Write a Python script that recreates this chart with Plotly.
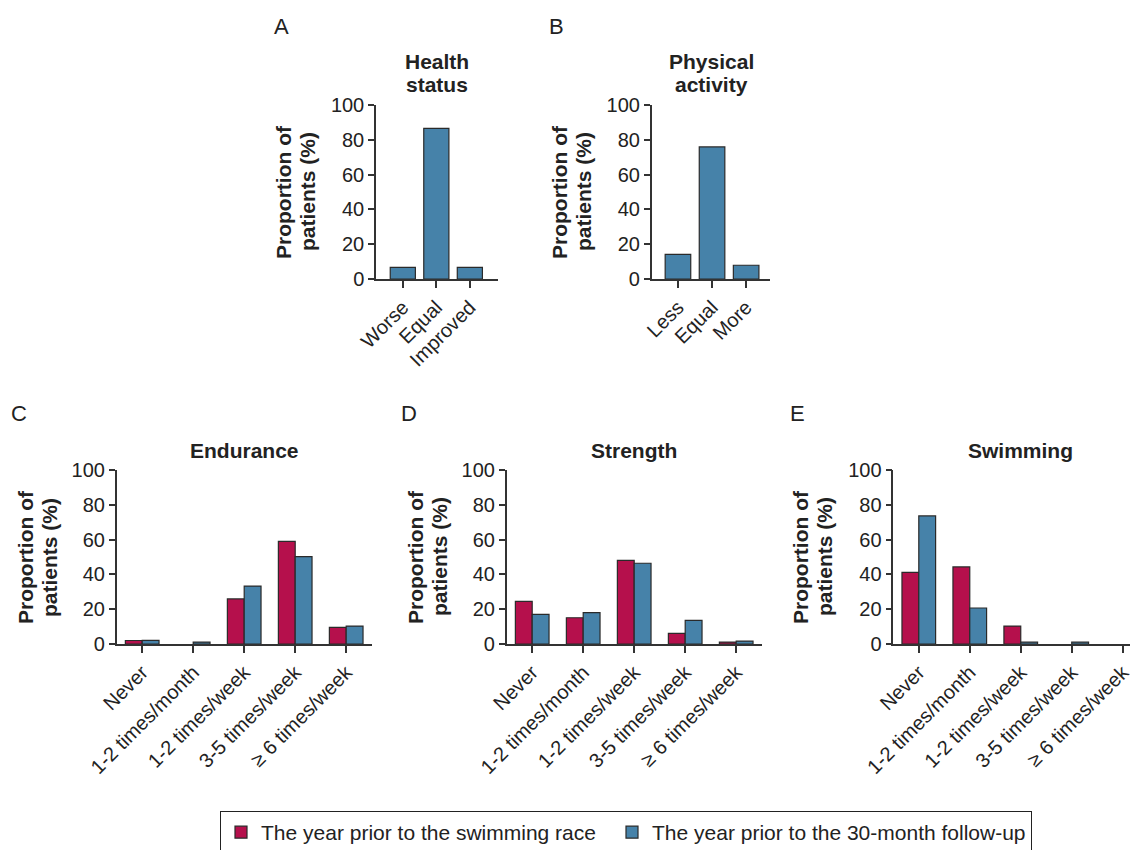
import plotly.graph_objects as go

W, H = 1138, 850
OFF = 8  # page body margin of the browser

# ---------------- data ----------------
health_cats = ["Worse", "Equal", "Improved"]
health_vals = [6.7, 86.6, 6.7]

activity_cats = ["Less", "Equal", "More"]
activity_vals = [14.2, 75.9, 7.9]

freq_cats = ["Never", "1-2 times/month", "1-2 times/week", "3-5 times/week", "≥ 6 times/week"]
endurance_race = [2.0, 0, 25.9, 59.0, 9.6]
endurance_follow = [2.1, 1.1, 33.3, 50.2, 10.3]
strength_race = [24.5, 15.1, 48.1, 6.1, 1.1]
strength_follow = [17.0, 18.0, 46.4, 13.6, 1.7]
swimming_race = [41.2, 44.3, 10.3, 0, 0]
swimming_follow = [73.6, 20.7, 1.1, 1.1, 0]

series_names = ["The year prior to the swimming race", "The year prior to the 30-month follow-up"]

RED = "#B5104C"
BLUE = "#4682A9"
EDGE = "#2a2a2a"
FONT = "Liberation Sans, Arial, sans-serif"


def fx(p):
    return (p - OFF) / W


def fy(p):
    return 1 - (p - OFF) / H


def edge(vals):
    # no outline for empty bars
    return dict(color=EDGE, width=[0 if v == 0 else 1.2 for v in vals])


fig = go.Figure()

# Panel A & B single bars
fig.add_trace(go.Bar(x=health_cats, y=health_vals, marker=dict(color=BLUE, line=edge(health_vals)),
                     width=0.75, showlegend=False, xaxis="x", yaxis="y"))
fig.add_trace(go.Bar(x=activity_cats, y=activity_vals, marker=dict(color=BLUE, line=edge(activity_vals)),
                     width=0.75, showlegend=False, xaxis="x2", yaxis="y2"))

panels = [
    (endurance_race, endurance_follow, "x3", "y3", True),
    (strength_race, strength_follow, "x4", "y4", False),
    (swimming_race, swimming_follow, "x5", "y5", False),
]
for race, follow, xa, ya, show in panels:
    fig.add_trace(go.Bar(x=freq_cats, y=race, name=series_names[0], marker=dict(color=RED, line=edge(race)),
                         width=0.33, offset=-0.33, showlegend=show, xaxis=xa, yaxis=ya,
                         legendgroup="race", legendwidth=346))
    fig.add_trace(go.Bar(x=freq_cats, y=follow, name=series_names[1], marker=dict(color=BLUE, line=edge(follow)),
                         width=0.33, offset=0.0, showlegend=show, xaxis=xa, yaxis=ya,
                         legendgroup="follow"))

TICKFONT = dict(family=FONT, size=20, color="#222")


def xaxis(dom_px, rng, anchor):
    return dict(domain=[fx(dom_px[0]), fx(dom_px[1])], range=rng, anchor=anchor,
                type="category", showline=True, linecolor="#333", linewidth=1.5,
                ticks="outside", ticklen=7, tickwidth=1.5, tickcolor="#333",
                tickangle=-45, tickfont=TICKFONT, showgrid=False, zeroline=False,
                fixedrange=True, automargin=False)


def yaxis(dom_px, anchor):
    return dict(domain=[fy(dom_px[1]), fy(dom_px[0])], range=[0, 100], anchor=anchor,
                showline=True, linecolor="#333", linewidth=1.5,
                ticks="outside", ticklen=6, tickwidth=1.5, tickcolor="#333",
                tickvals=[0, 20, 40, 60, 80, 100], tickfont=TICKFONT,
                showgrid=False, zeroline=False, fixedrange=True, automargin=False)


top_y = (105, 279)
bot_y = (470, 644)

layout = dict(
    template="none",
    width=W, height=H,
    margin=dict(l=0, r=0, t=0, b=0, autoexpand=False),
    paper_bgcolor="white", plot_bgcolor="white",
    barmode="overlay",
    font=dict(family=FONT, color="#222"),
    xaxis=xaxis((376, 498), [-0.8, 2.84], "y"),
    yaxis=yaxis(top_y, "x"),
    xaxis2=xaxis((651.7, 770), [-0.77, 2.7], "y2"),
    yaxis2=yaxis(top_y, "x2"),
    xaxis3=xaxis((116.7, 371.7), [-0.5, 4.5], "y3"),
    yaxis3=yaxis(bot_y, "x3"),
    xaxis4=xaxis((506.7, 761.7), [-0.5, 4.5], "y4"),
    yaxis4=yaxis(bot_y, "x4"),
    xaxis5=xaxis((893.3, 1138), [-0.5, 4.3], "y5"),
    yaxis5=yaxis(bot_y, "x5"),
    legend=dict(orientation="h", x=fx(220), y=fy(811), xanchor="left", yanchor="top",
                bordercolor="#222", borderwidth=1, font=dict(family=FONT, size=21, color="#222"),
                traceorder="normal", itemclick=False, itemdoubleclick=False),
    showlegend=True,
)

ann = []
# panel letters
for letter, x, y in [("A", 281, 27), ("B", 556, 27), ("C", 19, 413), ("D", 409, 413), ("E", 797, 413)]:
    ann.append(dict(text=letter, x=fx(x), y=fy(y), xref="paper", yref="paper", showarrow=False,
                    xanchor="center", yanchor="middle", font=dict(family=FONT, size=22, color="#222")))
# panel titles (one annotation per line)
for title, x, y in [("Health", 437, 61), ("status", 437, 85), ("Physical", 711, 61), ("activity", 711, 85),
                    ("Endurance", 244, 450), ("Strength", 634, 450), ("Swimming", 1020, 450)]:
    ann.append(dict(text="<b>" + title + "</b>", x=fx(x), y=fy(y), xref="paper", yref="paper",
                    showarrow=False, xanchor="center", yanchor="middle",
                    font=dict(family=FONT, size=21, color="#222")))
# y-axis titles (two lines each)
for x, y in [(296, 192), (572, 192), (37, 557), (427, 557), (812, 557)]:
    for txt, dx in [("Proportion of", -12), ("patients (%)", 12)]:
        ann.append(dict(text="<b>" + txt + "</b>", x=fx(x + dx), y=fy(y), xref="paper",
                        yref="paper", showarrow=False, xanchor="center", yanchor="middle", textangle=-90,
                        font=dict(family=FONT, size=21, color="#222")))

layout["annotations"] = ann
fig.update_layout(**layout)

fig.write_html("out.html")
